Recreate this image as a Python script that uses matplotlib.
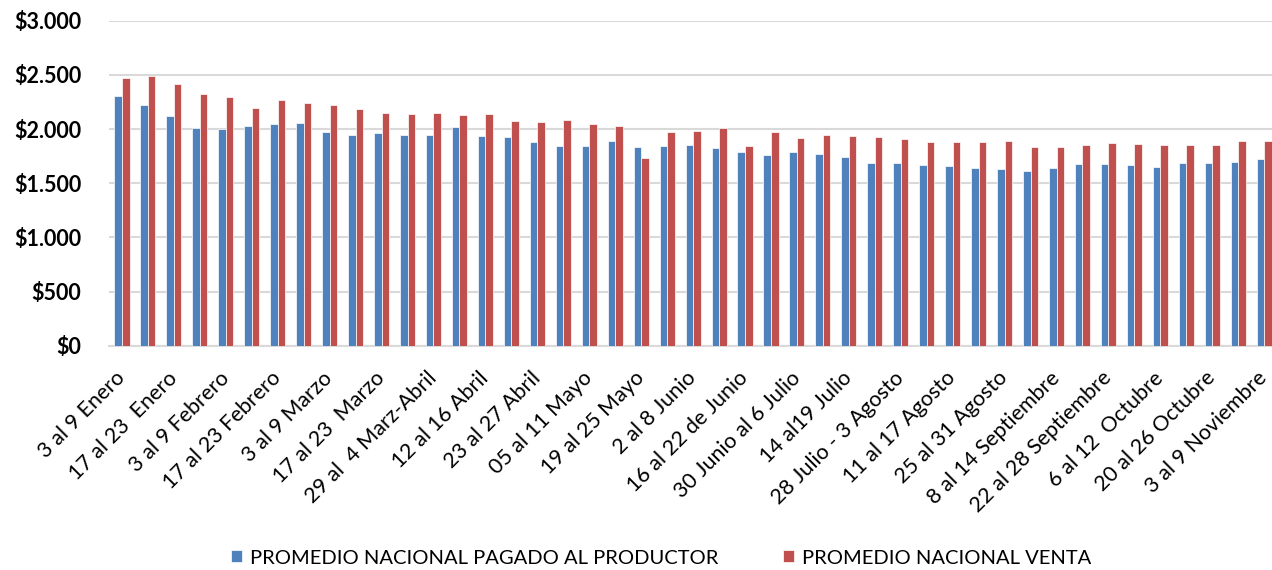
import matplotlib
matplotlib.use("Agg")
import matplotlib.pyplot as plt
import numpy as np
from matplotlib.ticker import FuncFormatter

# ---- data ----
tick_labels = [
    "3 al 9 Enero", "17 al 23  Enero", "3 al 9 Febrero", "17 al 23 Febrero",
    "3 al 9 Marzo", "17 al 23  Marzo", "29 al  4 Marz-Abril", "12 al 16 Abril",
    "23 al 27 Abril", "05 al 11 Mayo", "19 al 25 Mayo", "2 al 8 Junio",
    "16 al 22 de Junio", "30 Junio al 6 Julio", "14 al19 Julio",
    "28 Julio - 3 Agosto", "11 al 17 Agosto", "25 al 31 Agosto",
    "8 al 14 Septiembre", "22 al 28 Septiembre", "6 al 12  Octubre",
    "20 al 26 Octubre", "3 al 9 Noviembre",
]
productor = [
    2302, 2222, 2120, 2009, 2000, 2031, 2049, 2055, 1972, 1948,
    1966, 1942, 1948, 2022, 1939, 1926, 1877, 1846, 1846, 1889,
    1831, 1843, 1849, 1822, 1791, 1763, 1785, 1769, 1745, 1683,
    1683, 1671, 1659, 1643, 1628, 1612, 1643, 1677, 1677, 1668,
    1646, 1683, 1683, 1695, 1723,
]
venta = [
    2474, 2489, 2412, 2323, 2299, 2191, 2265, 2237, 2222, 2185,
    2145, 2135, 2148, 2126, 2135, 2071, 2068, 2080, 2049, 2025,
    1735, 1969, 1978, 2009, 1846, 1969, 1917, 1945, 1932, 1926,
    1908, 1880, 1877, 1877, 1889, 1831, 1831, 1849, 1868, 1865,
    1849, 1849, 1852, 1889, 1889,
]
series_names = ["PROMEDIO NACIONAL PAGADO AL PRODUCTOR", "PROMEDIO NACIONAL VENTA"]
colors = ["#4F81BD", "#C0504D"]

plt.rcParams['font.family'] = ['Lato', 'DejaVu Sans']

fig = plt.figure(figsize=(12.72, 5.70), dpi=100)
ax = fig.add_axes([109/1272, (570-345.7)/570, 1 - 109/1272, (345.7-20.7)/570])

n = len(productor)
x = np.arange(n)
w = 0.29
ax.bar(x - w/2, productor, w, color=colors[0], edgecolor="white", linewidth=0.5,
       label=series_names[0], zorder=3)
ax.bar(x + w/2, venta, w, color=colors[1], edgecolor="white", linewidth=0.5,
       label=series_names[1], zorder=3)

ax.set_ylim(0, 3000)
ax.set_xlim(-0.5, n - 0.7)
ax.set_yticks(np.arange(0, 3001, 500))
ax.yaxis.set_major_formatter(FuncFormatter(lambda v, p: "$" + f"{int(v):,}".replace(",", ".")))
ax.grid(axis="y", color="#D9D9D9", linewidth=1.5, zorder=0)
for s in ["top", "right", "left"]:
    ax.spines[s].set_visible(False)
ax.spines["bottom"].set_color("#D9D9D9")
ax.spines["bottom"].set_linewidth(1.5)
ax.tick_params(axis="both", length=0)
ax.tick_params(axis="y", pad=20)
for t in ax.get_yticklabels():
    t.set_fontsize(15.5)
    t.set_fontweight("bold")

ax.set_xticks(x[::2])
ax.set_xticklabels(tick_labels, rotation=45, ha="right", va="center",
                   rotation_mode="anchor", fontsize=15.5)
ax.tick_params(axis="x", pad=21)

leg = fig.legend(loc="center", bbox_to_anchor=(661/1272, (570-558)/570), ncol=2,
                 frameon=False, fontsize=14.5, handlelength=0.55, handleheight=0.55,
                 handletextpad=0.4, columnspacing=3.2)

fig.savefig("out.png", dpi=100)
